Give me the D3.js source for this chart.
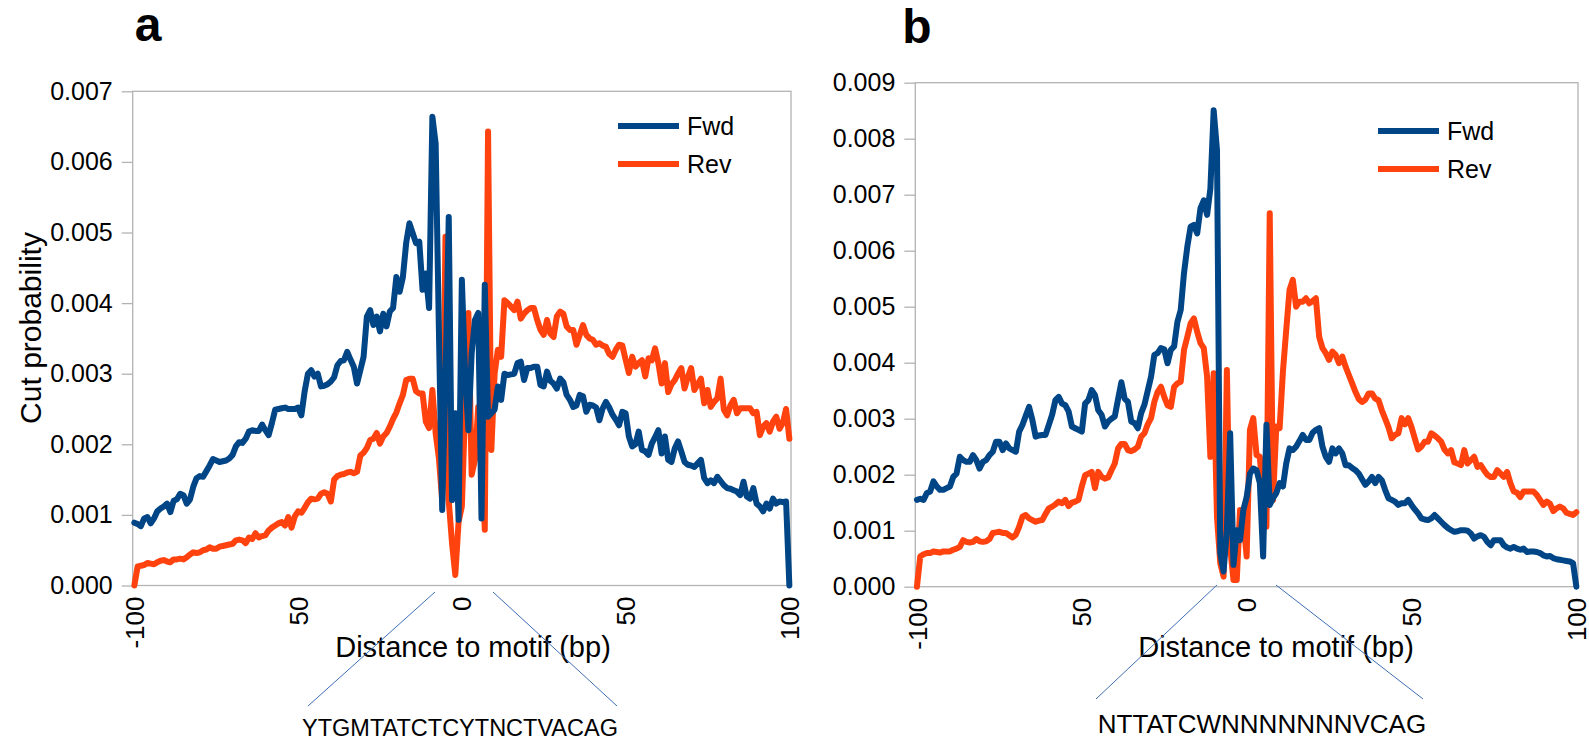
<!DOCTYPE html>
<html>
<head>
<meta charset="utf-8">
<script src="https://cdn.jsdelivr.net/npm/d3@7"></script>
<style>
  body { margin: 0; background: #fff; }
  svg text { font-family: "Liberation Sans", Arial, Helvetica, sans-serif; fill: #000; }
</style>
</head>
<body>
<svg id="chart" width="1589" height="746"></svg>
<script>
// Distance to motif, one category per base pair
const positions = d3.range(-100, 101);
const xTickValues = [-100, -50, 0, 50, 100];
const xTickLabels = ["-100", "50", "0", "50", "100"];
const yTicksA = [0, 0.001, 0.002, 0.003, 0.004, 0.005, 0.006, 0.007];
const yTicksB = [0, 0.001, 0.002, 0.003, 0.004, 0.005, 0.006, 0.007, 0.008, 0.009];
const seriesNames = ["Fwd", "Rev"];
const unit = 1e-3; // series values below are in units of 0.001

// Panel a: YTGMTATCTCYTNCTVACAG
const fwdA = [
  0.89,0.87,0.84,0.95,0.97,0.88,0.95,1.05,1.09,1.12,
  1.16,1.04,1.20,1.22,1.30,1.28,1.16,1.22,1.40,1.52,
  1.55,1.54,1.62,1.70,1.79,1.77,1.75,1.76,1.77,1.80,
  1.85,1.97,2.03,2.02,2.08,2.18,2.20,2.19,2.19,2.28,
  2.20,2.13,2.30,2.49,2.50,2.51,2.52,2.50,2.50,2.50,
  2.52,2.41,2.75,3.00,3.05,2.96,3.00,2.82,2.83,2.85,
  2.89,2.95,3.12,3.18,3.19,3.31,3.20,3.10,2.86,3.05,
  3.24,3.81,3.90,3.69,3.81,3.60,3.85,3.67,3.88,3.93,
  4.37,4.16,4.37,4.85,5.13,4.99,4.85,4.87,4.19,4.42,
  3.93,6.64,6.26,3.60,1.07,2.90,5.22,1.21,2.44,0.93,
  4.33,3.00,2.20,3.29,3.76,3.86,0.95,4.26,2.39,2.44,
  2.49,2.82,2.63,3.00,2.98,2.99,3.00,3.15,3.17,2.91,
  3.08,3.08,3.10,3.10,2.84,2.82,3.03,2.90,2.86,2.79,
  2.93,2.88,2.70,2.63,2.53,2.55,2.70,2.68,2.46,2.56,
  2.55,2.52,2.34,2.51,2.60,2.52,2.42,2.35,2.27,2.46,
  2.44,2.11,1.97,2.00,2.18,1.92,1.90,1.85,2.01,2.10,
  2.20,1.87,2.11,1.78,1.75,1.94,2.04,1.90,1.75,1.71,
  1.70,1.68,1.73,1.78,1.52,1.45,1.49,1.45,1.54,1.48,
  1.42,1.38,1.37,1.35,1.33,1.28,1.47,1.26,1.23,1.38,
  1.16,1.12,1.05,1.16,1.09,1.23,1.16,1.19,1.18,1.19,
  0.00
];
const revA = [
  0.00,0.27,0.28,0.29,0.32,0.31,0.30,0.33,0.35,0.36,
  0.34,0.33,0.37,0.37,0.38,0.37,0.40,0.44,0.47,0.46,
  0.47,0.50,0.51,0.54,0.52,0.52,0.55,0.56,0.57,0.58,
  0.59,0.64,0.65,0.64,0.60,0.68,0.66,0.74,0.68,0.70,
  0.71,0.78,0.82,0.85,0.88,0.90,0.85,0.97,0.82,0.98,
  1.05,1.03,1.10,1.18,1.23,1.22,1.23,1.30,1.32,1.30,
  1.19,1.50,1.55,1.57,1.58,1.60,1.61,1.59,1.61,1.84,
  1.88,1.95,2.06,2.08,2.16,2.01,2.11,2.16,2.25,2.36,
  2.45,2.58,2.70,2.91,2.93,2.93,2.75,2.72,2.72,2.32,
  2.23,2.77,2.16,1.80,1.20,4.94,1.20,0.60,0.15,0.90,
  1.12,2.50,3.86,1.57,1.78,2.53,2.20,0.79,6.43,1.92,
  3.00,3.34,3.24,4.04,4.00,3.95,3.90,4.02,3.78,3.85,
  3.90,3.93,3.93,3.76,3.62,3.55,3.76,3.57,3.52,3.81,
  3.88,3.85,3.67,3.62,3.62,3.41,3.55,3.69,3.55,3.50,
  3.48,3.41,3.43,3.40,3.38,3.28,3.24,3.34,3.41,3.40,
  3.20,3.01,3.24,3.10,3.15,3.19,2.96,3.22,3.19,3.36,
  3.15,2.86,3.15,2.74,2.85,2.91,3.00,3.08,2.79,2.95,
  3.08,2.77,2.85,2.93,2.58,2.77,2.53,2.60,2.65,2.93,
  2.49,2.41,2.55,2.63,2.44,2.51,2.51,2.51,2.51,2.44,
  2.46,2.13,2.25,2.30,2.18,2.32,2.39,2.22,2.30,2.50,
  2.08
];

// Panel b: NTTATCWNNNNNNNVCAG
const fwdB = [
  1.55,1.57,1.55,1.67,1.70,1.88,1.79,1.73,1.73,1.76,
  1.79,1.96,2.02,2.32,2.26,2.23,2.23,2.35,2.26,2.11,
  2.23,2.26,2.35,2.41,2.59,2.59,2.44,2.56,2.47,2.44,
  2.41,2.77,2.89,3.05,3.21,2.98,2.68,2.70,2.71,2.71,
  2.89,3.07,3.33,3.39,3.27,3.24,3.13,2.86,2.83,2.80,
  2.77,3.27,3.33,3.51,3.42,3.15,3.07,2.86,2.95,3.00,
  3.04,3.35,3.65,3.36,3.30,2.95,2.92,2.83,3.10,3.25,
  3.50,3.75,4.14,4.17,4.26,4.24,3.99,4.23,4.29,4.73,
  4.94,5.60,6.07,6.43,6.46,6.31,6.76,6.90,6.64,7.11,
  8.51,7.80,0.60,0.27,1.01,2.74,0.39,1.01,0.83,1.37,
  1.60,2.02,2.11,2.08,1.85,0.54,2.89,1.46,1.58,1.67,
  1.85,1.79,2.20,2.47,2.44,2.50,2.60,2.71,2.62,2.62,
  2.75,2.80,2.83,2.50,2.32,2.23,2.47,2.38,2.47,2.38,
  2.17,2.17,2.12,2.08,2.02,1.92,1.82,1.88,1.96,1.85,
  1.96,1.90,1.73,1.58,1.55,1.52,1.46,1.49,1.49,1.55,
  1.46,1.38,1.31,1.22,1.20,1.19,1.22,1.28,1.22,1.16,
  1.10,1.05,1.01,0.98,0.99,1.01,1.01,1.00,0.95,0.86,
  0.90,0.92,0.89,0.80,0.74,0.83,0.83,0.83,0.74,0.70,
  0.68,0.71,0.68,0.66,0.68,0.62,0.63,0.63,0.62,0.60,
  0.56,0.54,0.55,0.51,0.49,0.48,0.47,0.46,0.45,0.42,
  0.00
];
const revB = [
  0.00,0.54,0.58,0.60,0.60,0.63,0.62,0.61,0.63,0.63,
  0.63,0.66,0.68,0.71,0.83,0.80,0.79,0.80,0.85,0.81,
  0.80,0.81,0.85,0.96,0.97,0.98,0.96,0.96,0.92,0.88,
  0.93,1.07,1.25,1.28,1.22,1.19,1.16,1.18,1.19,1.30,
  1.40,1.43,1.47,1.52,1.49,1.55,1.44,1.50,1.52,1.55,
  1.79,1.99,2.02,2.05,1.76,2.05,1.96,1.93,1.95,2.08,
  2.20,2.47,2.55,2.55,2.44,2.42,2.45,2.50,2.68,2.74,
  2.90,3.01,3.30,3.48,3.57,3.39,3.24,3.21,3.57,3.63,
  3.66,4.23,4.46,4.70,4.79,4.55,4.35,4.26,3.75,2.32,
  3.81,1.25,0.42,0.18,3.87,0.71,0.12,0.12,1.37,1.19,
  0.54,2.80,3.01,2.35,2.32,1.55,1.07,6.67,1.55,2.86,
  2.83,3.84,4.58,5.30,5.48,5.00,5.09,5.09,5.15,5.06,
  5.10,5.15,4.46,4.26,4.17,4.05,4.20,4.14,3.99,4.11,
  3.93,3.78,3.63,3.48,3.35,3.30,3.34,3.45,3.45,3.36,
  3.33,3.15,3.00,2.85,2.65,2.71,2.74,3.01,2.90,3.01,
  2.85,2.65,2.45,2.50,2.59,2.59,2.74,2.70,2.65,2.59,
  2.45,2.38,2.44,2.22,2.20,2.17,2.44,2.20,2.26,2.32,
  2.14,2.17,2.08,2.00,1.96,1.96,2.08,2.02,1.96,2.05,
  1.85,1.70,1.68,1.60,1.70,1.70,1.70,1.70,1.64,1.55,
  1.46,1.52,1.48,1.35,1.40,1.43,1.40,1.32,1.30,1.28,
  1.33
];

const colors = { Fwd: "#004586", Rev: "#ff420e" };
const frameColor = "#b3b3b3";
const font = '"Liberation Sans", Arial, Helvetica, sans-serif';

const panels = [
  {
    label: "a", labelX: 148, labelY: 41,
    left: 132.7, right: 791, top: 91.3, bottom: 585.5,
    yTicks: yTicksA, fwd: fwdA, rev: revA,
    yTitle: "Cut probability",
    titleX: 473,
    legendX: 618, legendY: 126,
    motif: "YTGMTATCTCYTNCTVACAG", motifX: 460, motifY: 736, motifSize: 23.5,
    motifSpan: [-8.2, 9.5], braceTop: 592, braceBottom: 706, braceFoot: [308, 617]
  },
  {
    label: "b", labelX: 917, labelY: 43,
    left: 915.3, right: 1578, top: 82.7, bottom: 586.7,
    yTicks: yTicksB, fwd: fwdB, rev: revB,
    yTitle: null,
    titleX: 1276,
    legendX: 1378, legendY: 131,
    motif: "NTTATCWNNNNNNNVCAG", motifX: 1262, motifY: 733, motifSize: 26,
    motifSpan: [-9, 8.9], braceTop: 585, braceBottom: 699, braceFoot: [1096, 1423]
  }
];

const svg = d3.select("#chart");

panels.forEach(p => {
  const g = svg.append("g");

  const x = d3.scalePoint().domain(positions).range([p.left, p.right]).padding(0.5);
  const xl = d3.scaleLinear().domain([-100, 100]).range([x(-100), x(100)]);
  const yMax = p.yTicks[p.yTicks.length - 1];
  const y = d3.scaleLinear().domain([0, yMax]).range([p.bottom, p.top]);

  // plot frame
  g.append("rect")
    .attr("x", p.left).attr("y", p.top)
    .attr("width", p.right - p.left).attr("height", p.bottom - p.top)
    .attr("fill", "none").attr("stroke", frameColor).attr("stroke-width", 1.3);

  // y axis
  g.append("g")
    .attr("transform", `translate(${p.left},0)`)
    .call(d3.axisLeft(y).tickValues(p.yTicks).tickFormat(d3.format(".3f")).tickSize(11).tickPadding(9))
    .call(a => {
      a.attr("font-family", font).attr("font-size", 25);
      a.select(".domain").remove();
      a.selectAll(".tick line").attr("stroke", frameColor).attr("stroke-width", 1.3);
      a.selectAll(".tick text").attr("fill", "#000");
    });

  // x axis with rotated labels
  g.append("g")
    .attr("transform", `translate(0,${p.bottom})`)
    .call(d3.axisBottom(x).tickValues(xTickValues).tickSize(0).tickFormat((d, i) => xTickLabels[i]))
    .call(a => {
      a.attr("font-family", font).attr("font-size", 26);
      a.select(".domain").remove();
      a.selectAll(".tick text")
        .attr("fill", "#000")
        .attr("x", 0).attr("y", 0).attr("dy", "0.35em")
        .attr("text-anchor", "end")
        .attr("transform", "translate(0,11) rotate(-90)");
    });

  // series
  const line = d3.line()
    .x((v, i) => x(positions[i]))
    .y(v => y(v * unit))
    .curve(d3.curveLinear);

  [["Rev", p.rev], ["Fwd", p.fwd]].forEach(([name, vals]) => {
    g.append("path")
      .datum(vals)
      .attr("d", line)
      .attr("fill", "none")
      .attr("stroke", colors[name])
      .attr("stroke-width", 6)
      .attr("stroke-linejoin", "round")
      .attr("stroke-linecap", "round");
  });

  // legend
  const lg = g.append("g");
  seriesNames.forEach((name, i) => {
    const ly = p.legendY + i * 38;
    lg.append("line")
      .attr("x1", p.legendX).attr("x2", p.legendX + 61)
      .attr("y1", ly).attr("y2", ly)
      .attr("stroke", colors[name]).attr("stroke-width", 6);
    lg.append("text")
      .attr("x", p.legendX + 69).attr("y", ly).attr("dy", "0.35em")
      .attr("font-size", 25)
      .text(name);
  });

  // axis titles
  g.append("text")
    .attr("x", p.titleX).attr("y", 657)
    .attr("text-anchor", "middle")
    .attr("font-size", 29)
    .text("Distance to motif (bp)");

  if (p.yTitle) {
    g.append("text")
      .attr("transform", "translate(30,328) rotate(-90)")
      .attr("text-anchor", "middle").attr("dy", "0.35em")
      .attr("font-size", 30)
      .text(p.yTitle);
  }

  // panel letter
  g.append("text")
    .attr("x", p.labelX).attr("y", p.labelY)
    .attr("text-anchor", "middle")
    .attr("font-size", 48).attr("font-weight", "bold")
    .text(p.label);

  // motif callout
  [0, 1].forEach(k => {
    g.append("line")
      .attr("x1", xl(p.motifSpan[k])).attr("y1", p.braceTop)
      .attr("x2", p.braceFoot[k]).attr("y2", p.braceBottom)
      .attr("stroke", "#3f6fb5").attr("stroke-width", 1);
  });
  g.append("text")
    .attr("x", p.motifX).attr("y", p.motifY)
    .attr("text-anchor", "middle")
    .attr("font-size", p.motifSize)
    .text(p.motif);
});
</script>
</body>
</html>
